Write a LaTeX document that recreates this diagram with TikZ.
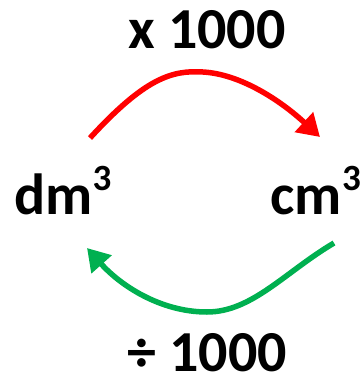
\documentclass[tikz,border=0pt]{standalone}
\usepackage{fontspec}
\setmainfont{Carlito}
\usetikzlibrary{arrows.meta}
\definecolor{offgreen}{RGB}{0,176,80}
\newcommand{\supthree}{\raisebox{24pt}{\fontsize{37}{37}\selectfont\bfseries 3}}
\begin{document}
\begin{tikzpicture}[x=1pt,y=-1pt,
  lbl/.style={font=\fontsize{58}{60}\selectfont\bfseries, inner sep=0pt, anchor=base},
  arr/.style={line width=5.5pt, -{Triangle[length=22pt,width=26pt]}}]
\useasboundingbox (0,0) rectangle (363,381);
\node[lbl] (times) at (207,48) {x 1000};
\node[lbl, anchor=base west] (dm) at (14,214) {dm\supthree};
\node[lbl, anchor=base east] (cm) at (361,214) {cm\supthree};
\node[lbl] (div) at (207,371) {÷ 1000};
\coordinate (r0) at (90,138);
\coordinate (r1) at (320,137);
\coordinate (g0) at (334,243);
\coordinate (g1) at (87,248);
\draw[arr, red] (r0) .. controls (145,78) and (172,70) .. (203,72)
  .. controls (240,74) and (280,100) .. (r1);
\draw[arr, offgreen] (g0) .. controls (285,272) and (252,312) .. (207,312)
  .. controls (160,312) and (120,285) .. (g1);
\end{tikzpicture}
\end{document}
